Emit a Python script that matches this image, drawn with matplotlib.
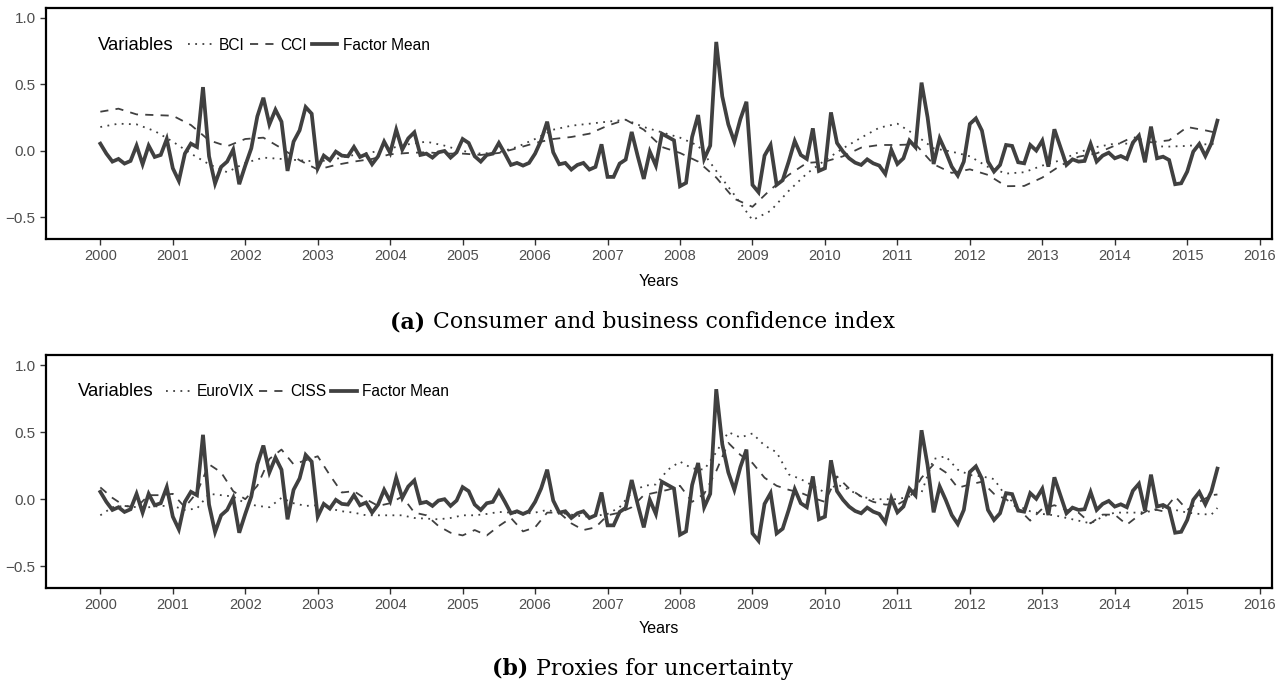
import numpy as np
import matplotlib
matplotlib.use('Agg')
import matplotlib.pyplot as plt
from matplotlib.ticker import FuncFormatter

plt.rcParams['font.family'] = ['Liberation Sans', 'DejaVu Sans']

# Factor mean, monthly from 2000-01 to 2015-06 (same series in both panels)
factor_mean = [
    0.055, -0.02, -0.08, -0.06, -0.095, -0.075, 0.04, -0.10, 0.04, -0.045, -0.03, 0.09,      # 2000
    -0.13, -0.225, -0.02, 0.055, 0.03, 0.48, -0.04, -0.245, -0.12, -0.08, 0.01, -0.25,       # 2001
    -0.11, 0.02, 0.26, 0.40, 0.20, 0.31, 0.22, -0.15, 0.07, 0.155, 0.33, 0.28,               # 2002
    -0.13, -0.035, -0.07, -0.005, -0.035, -0.04, 0.03, -0.045, -0.025, -0.10, -0.04, 0.07,   # 2003
    -0.015, 0.16, 0.01, 0.095, 0.14, -0.03, -0.02, -0.05, -0.01, 0.00, -0.05, -0.01,        # 2004
    0.09, 0.06, -0.04, -0.08, -0.03, -0.02, 0.06, -0.02, -0.105, -0.09, -0.11, -0.09,        # 2005
    -0.02, 0.08, 0.22, -0.01, -0.10, -0.09, -0.14, -0.105, -0.09, -0.14, -0.12, 0.05,        # 2006
    -0.195, -0.195, -0.095, -0.065, 0.143, -0.04, -0.21, -0.005, -0.11, 0.13, 0.105, 0.08,   # 2007
    -0.265, -0.24, 0.105, 0.27, -0.06, 0.04, 0.82, 0.41, 0.20, 0.07, 0.24, 0.37,             # 2008
    -0.255, -0.31, -0.035, 0.045, -0.255, -0.22, -0.08, 0.075, -0.03, -0.06, 0.17, -0.15,    # 2009
    -0.13, 0.29, 0.06, -0.005, -0.055, -0.088, -0.105, -0.063, -0.093, -0.11, -0.173, 0.008, # 2010
    -0.098, -0.055, 0.078, 0.028, 0.514, 0.253, -0.098, 0.095, -0.005, -0.118, -0.185, -0.08,# 2011
    0.203, 0.245, 0.153, -0.08, -0.155, -0.105, 0.045, 0.038, -0.085, -0.093, 0.045, 0.003,  # 2012
    0.078, -0.118, 0.163, 0.028, -0.105, -0.063, -0.08, -0.075, 0.053, -0.08, -0.035, -0.013,# 2013
    -0.055, -0.038, -0.06, 0.063, 0.115, -0.085, 0.183, -0.055, -0.043, -0.068, -0.25, -0.243,# 2014
    -0.155, -0.005, 0.053, -0.038, 0.058, 0.228,                                              # 2015
]

# Panel (a): quarterly readings (month index from 2000-01)
months_q = list(range(0, 184, 3)) + [185]
bci = [0.18, 0.205, 0.20, 0.15, 0.07, -0.02, -0.10, -0.16, -0.09, -0.05, -0.06, -0.07,
       -0.08, -0.06, -0.03, -0.01, 0.02, 0.05, 0.07, 0.04, 0.00, -0.02, -0.01, 0.03,
       0.09, 0.16, 0.19, 0.205, 0.22, 0.235, 0.18, 0.14, 0.10, 0.04, -0.15, -0.33,
       -0.52, -0.45, -0.30, -0.17, -0.07, 0.02, 0.10, 0.175, 0.205, 0.12, 0.02, -0.005,
       -0.04, -0.12, -0.17, -0.16, -0.11, -0.07, -0.01, 0.03, 0.055, 0.055, 0.035, 0.033,
       0.038, 0.05, 0.055]
cci = [0.295, 0.318, 0.275, 0.27, 0.265, 0.195, 0.08, 0.035, 0.09, 0.10, 0.02, -0.07,
       -0.14, -0.105, -0.08, -0.06, -0.025, -0.015, -0.01, -0.02, -0.02, -0.03, -0.015, 0.02,
       0.06, 0.09, 0.105, 0.13, 0.19, 0.235, 0.16, 0.03, -0.015, -0.08, -0.20, -0.36,
       -0.42, -0.29, -0.18, -0.09, -0.08, -0.04, 0.025, 0.045, 0.045, 0.05, -0.10, -0.165,
       -0.138, -0.18, -0.265, -0.263, -0.20, -0.11, -0.043, -0.018, 0.04, 0.105, 0.065, 0.08,
       0.18, 0.155, 0.135]

# Panel (b): bimonthly readings
months_b = list(range(0, 185, 2)) + [185]
eurovix = [-0.12, -0.06, -0.05, -0.06, -0.06, -0.05, -0.05, -0.08, -0.07, 0.04,
           0.03, 0.02, -0.03, -0.05, -0.06, 0.01, -0.03, -0.05, -0.045, -0.07,
           -0.09, -0.10, -0.12, -0.12, -0.12, -0.12, -0.14, -0.145, -0.15, -0.14,
           -0.12, -0.12, -0.11, -0.095, -0.10, -0.11, -0.10, -0.08, -0.10, -0.115,
           -0.13, -0.125, -0.11, -0.06, 0.05, 0.10, 0.11, 0.22, 0.28, 0.23,
           0.22, 0.35, 0.50, 0.46, 0.49, 0.40, 0.35, 0.185, 0.15, 0.10,
           0.05, 0.11, 0.07, 0.02, 0.0, 0.0, 0.0, 0.02, 0.05, 0.30,
           0.32, 0.22, 0.18, 0.17, 0.15, 0.02, -0.05, -0.09, -0.11, -0.12,
           -0.14, -0.16, -0.18, -0.13, -0.10, -0.10, -0.10, -0.09, -0.065, -0.08,
           -0.10, -0.11, -0.115, -0.065]
ciss = [0.088, 0.01, -0.05, -0.06, 0.03, 0.03, 0.04, -0.06, 0.05, 0.26,
        0.20, 0.06, 0.00, 0.10, 0.30, 0.37, 0.26, 0.29, 0.32, 0.18,
        0.05, 0.06, 0.0, -0.05, -0.03, 0.02, -0.10, -0.12, -0.20, -0.25,
        -0.27, -0.23, -0.27, -0.20, -0.14, -0.24, -0.21, -0.10, -0.10, -0.18,
        -0.23, -0.21, -0.12, -0.10, -0.06, 0.03, 0.05, 0.07, 0.10, -0.02,
        0.04, 0.21, 0.42, 0.33, 0.27, 0.16, 0.10, 0.07, 0.048, 0.01,
        -0.02, 0.17, 0.08, 0.02, -0.02, -0.04, -0.04, 0.01, 0.16, 0.26,
        0.20, 0.085, 0.11, 0.13, 0.04, 0.0, -0.07, -0.16, -0.07, -0.045,
        -0.08, -0.10, -0.18, -0.115, -0.115, -0.19, -0.12, -0.07, -0.09, 0.02,
        -0.08, -0.02, 0.03, 0.035]

year_ticks = list(range(2000, 2017))


def to_year(months):
    return 2000 + np.asarray(months) / 12.0


line_col = '#404040'
grey_txt = '#4d4d4d'

fig = plt.figure(figsize=(12.85, 6.86), dpi=100)
W, H = 1285, 686


def panel(top_px, bot_px, names, series_x, series_y, var_x_px, leg_x_px, xlab_pad):
    ax = fig.add_axes([46 / W, 1 - bot_px / H, (1272 - 46) / W, (bot_px - top_px) / H])
    fm_x = to_year(np.arange(len(factor_mean)))
    l1, = ax.plot(to_year(series_x[0]), series_y[0], color=line_col, lw=1.3,
                  linestyle=(0, (1, 3)), label=names[0])
    l2, = ax.plot(to_year(series_x[1]), series_y[1], color=line_col, lw=1.3,
                  linestyle=(0, (4.5, 4)), label=names[1])
    l3, = ax.plot(fm_x, factor_mean, color=line_col, lw=2.7, label='Factor Mean',
                  solid_joinstyle='miter')

    ax.set_xlim(1999.25, 2016.17)
    ax.set_ylim(-0.662, 1.075)
    ax.set_xticks(year_ticks)
    ax.set_yticks([-0.5, 0.0, 0.5, 1.0])
    ax.yaxis.set_major_formatter(FuncFormatter(lambda v, p: ('%.1f' % v).replace('-', '\u2212')))
    ax.tick_params(axis='x', labelsize=10.5, colors='#333333', labelcolor=grey_txt, length=4, width=1)
    ax.tick_params(axis='y', labelsize=11, colors='#333333', labelcolor=grey_txt, length=4, width=1)
    for s in ax.spines.values():
        s.set_linewidth(1.6)
        s.set_color('black')
    ax.set_xlabel('Years', fontsize=11.5, labelpad=xlab_pad)

    # legend: title on the left, entries in a row
    h = bot_px - top_px
    ax.text((var_x_px - 46) / 1226, 1 - 37 / h, 'Variables', transform=ax.transAxes,
            fontsize=13.3, va='center', ha='left')
    ax.legend(handles=[l1, l2, l3], loc='center left', ncol=3, frameon=False,
              bbox_to_anchor=((leg_x_px - 46) / 1226, 1 - 37 / h), borderaxespad=0,
              borderpad=0, fontsize=11.2, handlelength=1.65, handletextpad=0.35,
              columnspacing=0.3)
    return ax


panel(8, 239, ['BCI', 'CCI'], [months_q, months_q], [bci, cci], 98, 188, 7.5)
panel(355, 588, ['EuroVIX', 'CISS'], [months_b, months_b], [eurovix, ciss], 78, 166, 6.5)

# captions below each panel (bold label + regular text, centred together)
cap_font = dict(family='DejaVu Serif', fontsize=15.8)
fig.canvas.draw()


def caption(y_px, bold, rest):
    r = fig.canvas.get_renderer()
    tb = fig.text(0, 0, bold + ' ', fontweight='bold', va='center', **cap_font)
    tr = fig.text(0, 0, rest, va='center', **cap_font)
    wb = tb.get_window_extent(r).width
    wr = tr.get_window_extent(r).width
    x0 = (W - wb - wr) / 2
    tb.set_position((x0 / W, 1 - y_px / H))
    tr.set_position(((x0 + wb) / W, 1 - y_px / H))


caption(322, '(a)', 'Consumer and business confidence index')
caption(669, '(b)', 'Proxies for uncertainty')

fig.savefig('out.png', dpi=100)
